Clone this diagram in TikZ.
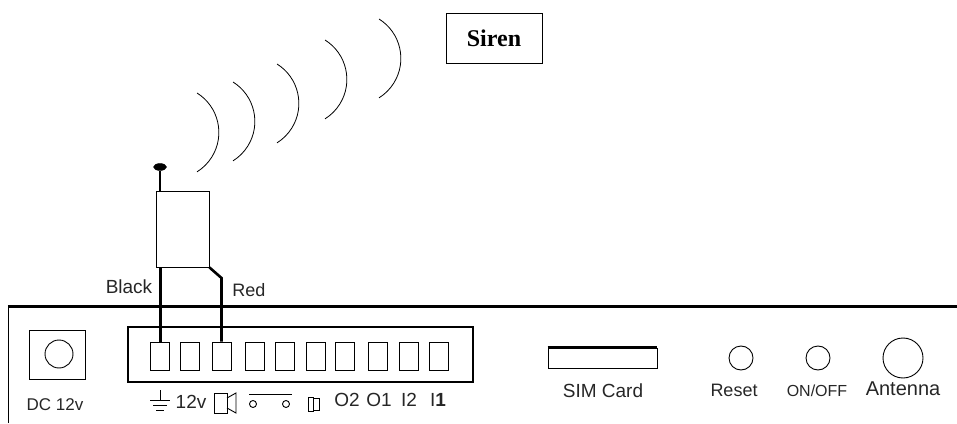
\documentclass[tikz,border=0pt]{standalone}
\usepackage{fontspec}
\setmainfont{Liberation Sans}
\newfontfamily\sirenfont{Liberation Serif}
\usetikzlibrary{shapes.geometric}
\tikzset{
	panel/.style={line width=0.9pt},
	wire/.style={line width=2.6pt},
	wave/.style={line width=0.8pt},
	terminal/.style={draw, panel, minimum width=19pt, minimum height=28pt, inner sep=0pt},
	knob/.style={draw, panel, circle, inner sep=0pt},
	caption/.style={inner sep=0pt, font=\fontsize{19}{22}\selectfont, color=black!85}
}

\begin{document}
\begin{tikzpicture}[x=1pt, y=1pt]
		%%%%% START %%%%%
		\useasboundingbox (0, 0) rectangle (957, 423);
		
		\draw[line width=1.4pt] (8.5, 0) -- (8.5, 116.5);
		\draw[line width=2.4pt] (7.8, 116.5) -- (957, 116.5);
		
		\node[draw, panel, minimum width=56pt, minimum height=49pt] (dcbox) at (57, 68.5) {};
		\node[knob, minimum size=28pt] (dcjack) at (59, 69) {};
		\node[caption, font=\fontsize{17}{20}\selectfont] (dclabel) at (55, 18) {DC 12v};
		
		\draw[line width=1.1pt] (128, 41) rectangle (473, 96);
		\draw[line width=2pt] (473, 41) -- (473, 96);
		\foreach \i/\x in {1/160.2, 2/189.5, 3/221.5, 4/254.5, 5/285.2, 6/315.5, 7/345.2, 8/377.5, 9/408.5, 10/438.5}
			\node[terminal] (t\i) at (\x, 67) {};
		
		\draw[panel] (160, 33) -- (160, 22.5);
		\draw[panel] (150, 22.5) -- (170, 22.5);
		\draw[panel] (153, 17.5) -- (167, 17.5);
		\draw[panel] (156, 12.5) -- (164, 12.5);
		\node[caption] (lbl12v) at (191, 21) {12v};
		\draw[panel] (214, 30) rectangle (227, 10);
		\draw[panel] (227, 25) -- (236, 30) -- (236, 10) -- (227, 15);
		\draw[panel] (249, 29) -- (292, 29);
		\draw[panel] (253, 19) circle (3.5);
		\draw[panel] (286, 19) circle (3.5);
		\draw[panel] (308, 26) rectangle (313, 12);
		\draw[panel] (313, 25) rectangle (319, 13);
		\node[caption] (lblo2) at (347, 23) {O2};
		\node[caption] (lblo1) at (379, 23) {O1};
		\node[caption] (lbli2) at (409, 23) {I2};
		\node[caption] (lbli1) at (438, 23) {I\textbf{1}};
		
		\node[draw, panel, minimum width=53pt, minimum height=76pt] (siren) at (182.5, 194) {};
		\node[draw, fill=black, ellipse, minimum width=13pt, minimum height=7pt, inner sep=0pt] (tip) at (160, 256) {};
		\draw[wire] (tip) -- (tip |- siren.north);
		
		\draw[wire] (t1.north |- siren.south) -- (t1.north);
		\coordinate (bend) at (221.5, 145);
		\draw[wire] (siren.south east) -- (bend) -- (t3.north);
		\node[caption] (black) at (129, 136) {Black};
		\node[caption, font=\fontsize{18}{20}\selectfont] (red) at (249, 133) {Red};
		
		\foreach \x/\y in {197/330, 233/341, 277/359, 325/383, 379/404}
			\draw[wave] (\x, \y) arc (58:-58:46.5);
		
		\node[draw, panel, minimum width=96pt, minimum height=50pt, inner sep=0pt, font=\sirenfont\bfseries\fontsize{24}{26}\selectfont] (sirenlabel) at (494, 385) {Siren};
		
		\node[draw, panel, minimum width=109pt, minimum height=20pt, inner sep=0pt] (sim) at (602.5, 65) {};
		\draw[wire] (sim.north west) -- (sim.north east);
		\node[caption] (simlabel) at (603, 32) {SIM Card};
		
		\node[knob, minimum size=24pt] (reset) at (741, 65) {};
		\node[caption, font=\fontsize{18}{20}\selectfont] (resetlabel) at (734, 33) {Reset};
		\node[knob, minimum size=24pt] (onoff) at (818, 65) {};
		\node[caption, font=\fontsize{16}{18}\selectfont] (onofflabel) at (817, 32) {ON/OFF};
		\node[knob, minimum size=40pt] (antenna) at (903, 65) {};
		\node[caption, font=\fontsize{20}{22}\selectfont] (antennalabel) at (903, 34) {Antenna};
		
		%%%%% END %%%%%
	\end{tikzpicture}
\end{document}
